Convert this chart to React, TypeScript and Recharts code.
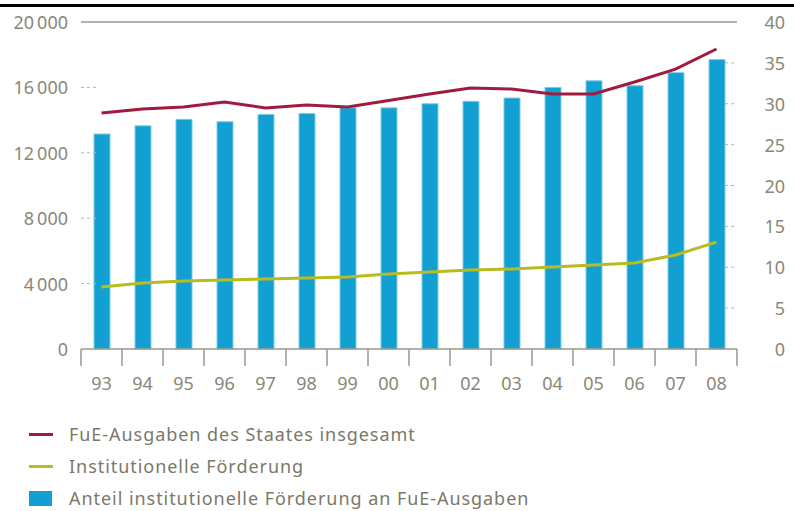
import React from 'react';
import { ComposedChart, Bar, Line, XAxis, YAxis, ReferenceLine } from 'recharts';

const years = ['93', '94', '95', '96', '97', '98', '99', '00', '01', '02', '03', '04', '05', '06', '07', '08'];
// FuE-Ausgaben des Staates insgesamt (Mio. €)
const fueTotal = [14430, 14680, 14800, 15110, 14740, 14920, 14800, 15200, 15600, 15960, 15900, 15600, 15600, 16330, 17120, 18350];
// Institutionelle Förderung (Mio. €)
const institutional = [3790, 4040, 4160, 4220, 4280, 4340, 4400, 4590, 4710, 4830, 4890, 5010, 5140, 5260, 5750, 6540];
// Anteil institutionelle Förderung an FuE-Ausgaben (%)
const share = [26.3, 27.3, 28.1, 27.8, 28.7, 28.8, 29.5, 29.5, 30.0, 30.3, 30.7, 32.0, 32.8, 32.2, 33.8, 35.4];

const leftTicks = [0, 4000, 8000, 12000, 16000, 20000];
const rightTicks = [0, 5, 10, 15, 20, 25, 30, 35, 40];

const data = years.map((year, i) => ({
  year,
  fueTotal: fueTotal[i],
  institutional: institutional[i],
  share: share[i],
}));

const RED = '#a01b3d';
const YELLOW = '#b9bc1e';
const BLUE = '#12a0d2';
const TEXT = '#8a8778';
const AXIS = '#9a988a';
const FONT = '"Noto Sans", sans-serif';

const PLOT_LEFT = 81;
const PLOT_RIGHT = 737;
const PLOT_BOTTOM = 349;
const BAND = (PLOT_RIGHT - PLOT_LEFT) / years.length;

const fmt = (v: number) => String(v).replace(/\B(?=(\d{3})+(?!\d))/g, '\u2009');

const LeftTick = ({ y, payload }: any) => (
  <g>
    <text x={68} y={y} textAnchor="end" dominantBaseline="central" fill={TEXT} fontSize={18} fontFamily={FONT}>
      {fmt(payload.value)}
    </text>
    {payload.value > 0 && payload.value < 20000 && (
      <line x1={PLOT_LEFT} x2={PLOT_LEFT + 16} y1={y} y2={y} stroke="#b8b6aa" strokeDasharray="3 3" />
    )}
  </g>
);

const RightTick = ({ y, payload }: any) => (
  <g>
    <text x={785} y={y} textAnchor="end" dominantBaseline="central" fill={TEXT} fontSize={18} fontFamily={FONT}>
      {payload.value}
    </text>
    {payload.value > 0 && payload.value < 40 && (
      <line x1={PLOT_RIGHT - 12} x2={PLOT_RIGHT} y1={y} y2={y} stroke="#b8b6aa" strokeDasharray="3 3" />
    )}
  </g>
);

const XTick = ({ x, payload, index }: any) => (
  <g>
    <line x1={x - BAND / 2} x2={x - BAND / 2} y1={PLOT_BOTTOM} y2={PLOT_BOTTOM + 17} stroke={AXIS} strokeWidth={1.5} />
    {index === years.length - 1 && (
      <line x1={x + BAND / 2} x2={x + BAND / 2} y1={PLOT_BOTTOM} y2={PLOT_BOTTOM + 17} stroke={AXIS} strokeWidth={1.5} />
    )}
    <text x={x} y={PLOT_BOTTOM + 34} textAnchor="middle" dominantBaseline="central" fill={TEXT} fontSize={18} fontFamily={FONT}>
      {payload.value}
    </text>
  </g>
);

const legendItems = [
  { label: 'FuE-Ausgaben des Staates insgesamt', color: RED, kind: 'line' },
  { label: 'Institutionelle Förderung', color: YELLOW, kind: 'line' },
  { label: 'Anteil institutionelle Förderung an FuE-Ausgaben', color: BLUE, kind: 'square' },
];

export default function App() {
  return (
    <div style={{ position: 'absolute', top: 0, left: 0, width: 794, height: 511, background: '#fff', overflow: 'hidden' }}>
      <div style={{ position: 'absolute', top: 4, left: 0, width: 794, height: 3, background: '#000' }} />
      <ComposedChart width={794} height={400} data={data} margin={{ top: 22, right: 0, bottom: 0, left: 0 }}>
        <XAxis
          dataKey="year"
          height={51}
          axisLine={{ stroke: AXIS, strokeWidth: 1.5 }}
          tickLine={false}
          tick={<XTick />}
          interval={0}
        />
        <YAxis
          yAxisId="left"
          width={81}
          domain={[0, 20000]}
          ticks={leftTicks}
          axisLine={false}
          tickLine={false}
          tick={<LeftTick />}
        />
        <YAxis
          yAxisId="right"
          orientation="right"
          width={57}
          domain={[0, 40]}
          ticks={rightTicks}
          axisLine={false}
          tickLine={false}
          tick={<RightTick />}
        />
        <ReferenceLine yAxisId="left" y={20000} stroke={AXIS} strokeWidth={1.5} />
        <Bar yAxisId="right" dataKey="share" fill={BLUE} stroke="#7ccbe8" strokeWidth={1} barSize={16} isAnimationActive={false} />
        <Line yAxisId="left" dataKey="fueTotal" stroke={RED} strokeWidth={3} dot={false} type="linear" isAnimationActive={false} />
        <Line yAxisId="left" dataKey="institutional" stroke={YELLOW} strokeWidth={3} dot={false} type="linear" isAnimationActive={false} />
      </ComposedChart>
      <div style={{ position: 'absolute', top: 418, left: 29, fontFamily: FONT, fontSize: 18, letterSpacing: 0.95, color: '#7a786b' }}>
        {legendItems.map((item) => (
          <div key={item.label} style={{ display: 'flex', alignItems: 'center', height: 32 }}>
            {item.kind === 'line' ? (
              <div style={{ width: 24, height: 3, background: item.color, marginRight: 16 }} />
            ) : (
              <div style={{ width: 23, height: 15, background: item.color, marginRight: 17 }} />
            )}
            <span>{item.label}</span>
          </div>
        ))}
      </div>
    </div>
  );
}
